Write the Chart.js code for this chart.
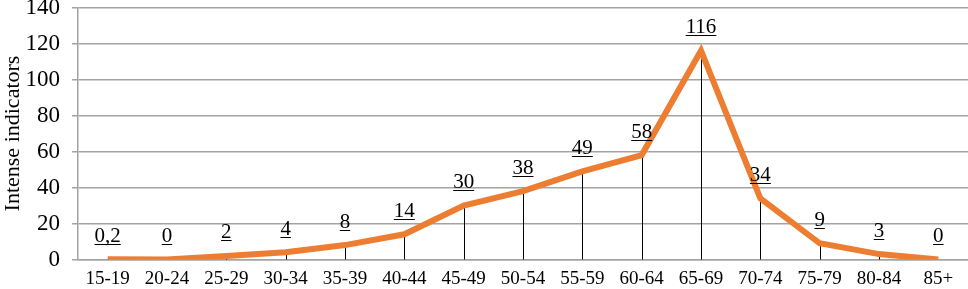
<!DOCTYPE html>
<html>
	<head>
		<title>Intense indicators</title>
		<meta charset="utf-8">
		<script src="https://cdn.jsdelivr.net/npm/chart.js"></script>
		<style>
			body { margin: 0; background: #fff; }
			#wrap { width: 968px; height: 289px; }
		</style>
	</head>
	<body>
		<div id="wrap"><canvas id="chart"></canvas></div>

		<script>

			// Data.
			const ageGroups = [
				'15-19', '20-24', '25-29', '30-34', '35-39', '40-44', '45-49', '50-54',
				'55-59', '60-64', '65-69', '70-74', '75-79', '80-84', '85+'
			];
			const indicators = [ 0.2, 0, 2, 4, 8, 14, 30, 38, 49, 58, 116, 34, 9, 3, 0 ];
			const yTicks = [ 0, 20, 40, 60, 80, 100, 120, 140 ];

			const serif = "'Liberation Serif', 'Times New Roman', serif";
			const gridGray = '#a3a3a3';

			// Thin drop lines from each point to the axis, and underlined value labels.
			const dropAndLabels = {
				id: 'dropAndLabels',
				beforeDatasetsDraw(chart) {
					const ctx = chart.ctx;
					const yScale = chart.scales.y;
					const meta = chart.getDatasetMeta(0);
					ctx.save();
					ctx.strokeStyle = '#000';
					ctx.lineWidth = 1;
					meta.data.forEach(function (pt) {
						const x = Math.round(pt.x) + 0.5;
						ctx.beginPath();
						ctx.moveTo(x, yScale.getPixelForValue(0));
						ctx.lineTo(x, pt.y);
						ctx.stroke();
					});
					ctx.restore();
				},
				afterDatasetsDraw(chart) {
					const ctx = chart.ctx;
					const meta = chart.getDatasetMeta(0);
					ctx.save();
					ctx.font = '21px ' + serif;
					ctx.fillStyle = '#000';
					ctx.strokeStyle = '#000';
					ctx.lineWidth = 1;
					ctx.textAlign = 'center';
					ctx.textBaseline = 'alphabetic';
					meta.data.forEach(function (pt, i) {
						const text = String(indicators[i]).replace('.', ',');
						const baseY = pt.y - 17.5;
						ctx.fillText(text, pt.x, baseY);
						const w = ctx.measureText(text).width;
						const uy = Math.round(baseY + 2) + 0.5;
						ctx.beginPath();
						ctx.moveTo(pt.x - w / 2, uy);
						ctx.lineTo(pt.x + w / 2, uy);
						ctx.stroke();
					});
					ctx.restore();
				}
			};

			new Chart(document.getElementById('chart'), {
				type: 'line',
				data: {
					labels: ageGroups,
					datasets: [{
						data: indicators,
						borderColor: '#ED7D31',
						borderWidth: 6,
						borderJoinStyle: 'miter',
						borderCapStyle: 'butt',
						pointRadius: 0,
						tension: 0,
						fill: false
					}]
				},
				options: {
					responsive: true,
					maintainAspectRatio: false,
					animation: false,
					layout: { padding: { top: 7.5, left: 0, right: 0, bottom: 0 } },
					plugins: {
						legend: { display: false },
						tooltip: { enabled: false }
					},
					scales: {
						x: {
							offset: true,
							grid: { display: false, drawTicks: false },
							border: { display: true, color: gridGray, width: 1.5 },
							ticks: {
								color: '#000',
								font: { family: serif, size: 19 },
								padding: 8,
								maxRotation: 0,
								autoSkip: false
							},
							afterFit(scale) {
								scale.height = 29.5;
								scale.paddingLeft = 0;
								scale.paddingRight = 0;
							}
						},
						y: {
							min: 0,
							max: 140,
							afterBuildTicks(scale) {
								scale.ticks = yTicks.map(function (v) { return { value: v }; });
							},
							grid: {
								color: gridGray,
								lineWidth: 1.5,
								tickLength: 6,
								drawTicks: true
							},
							border: { display: true, color: gridGray, width: 1.5 },
							ticks: {
								color: '#000',
								font: { family: serif, size: 23 },
								padding: 12
							},
							title: {
								display: true,
								text: 'Intense indicators',
								color: '#000',
								font: { family: serif, size: 22 },
								padding: 0
							},
							afterFit(scale) {
								scale.width = 78;
								scale.paddingTop = 0;
								scale.paddingBottom = 0;
							}
						}
					}
				},
				plugins: [dropAndLabels]
			});

		</script>
	</body>
</html>
